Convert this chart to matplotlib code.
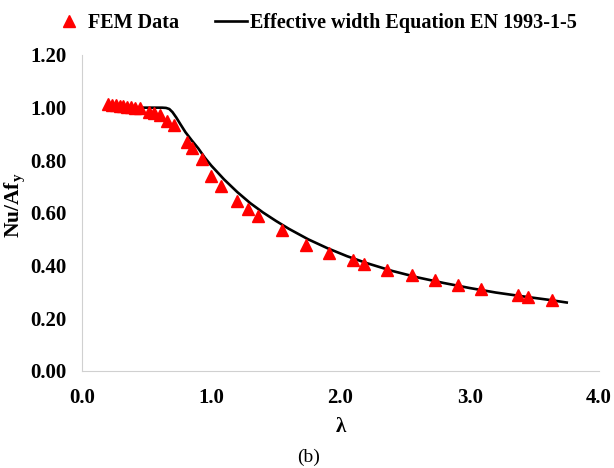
import matplotlib.pyplot as plt

# FEM results (lambda, Nu/Afy)
fem_lambda = [0.20, 0.23, 0.26, 0.29, 0.32, 0.35, 0.38, 0.41, 0.45,
              0.52, 0.56, 0.60, 0.66, 0.71, 0.81, 0.85, 0.93, 1.00,
              1.075, 1.20, 1.285, 1.36, 1.55, 1.73, 1.91, 2.10, 2.18,
              2.36, 2.55, 2.73, 2.91, 3.09, 3.37, 3.45, 3.64]
fem_ratio = [1.012, 1.011, 1.010, 1.008, 1.006, 1.004, 1.002, 1.000, 0.998,
             0.985, 0.978, 0.972, 0.950, 0.935, 0.870, 0.845, 0.806, 0.742,
             0.704, 0.647, 0.617, 0.590, 0.534, 0.477, 0.447, 0.420, 0.405,
             0.382, 0.363, 0.344, 0.326, 0.310, 0.287, 0.280, 0.270]

# Effective width curve EN 1993-1-5
en_lambda = [0.20, 0.40, 0.62, 0.65, 0.675, 0.70, 0.73, 0.76, 0.80, 0.85, 0.90, 0.95,
             1.00, 1.10, 1.20, 1.30, 1.40, 1.50, 1.60, 1.75, 1.90, 2.05,
             2.20, 2.40, 2.60, 2.80, 3.00, 3.20, 3.40, 3.60, 3.75]
en_ratio = [1.000, 1.000, 1.000, 0.999, 0.995, 0.983, 0.962, 0.938, 0.907, 0.875, 0.845, 0.810,
            0.780, 0.727, 0.680, 0.638, 0.602, 0.570, 0.540, 0.500, 0.466, 0.436,
            0.410, 0.380, 0.355, 0.334, 0.315, 0.298, 0.284, 0.271, 0.260]

x_ticks = [0.0, 1.0, 2.0, 3.0, 4.0]
y_ticks = [0.0, 0.2, 0.4, 0.6, 0.8, 1.0, 1.2]

plt.rcParams['font.family'] = ['Liberation Serif', 'DejaVu Serif']
plt.rcParams['mathtext.fontset'] = 'custom'
plt.rcParams['mathtext.bf'] = 'Liberation Serif:bold'

fig = plt.figure(figsize=(6.14, 4.68), dpi=100)
ax = fig.add_axes([0.1336, 0.2073, 0.842, 0.6752])

ax.plot(fem_lambda, fem_ratio, linestyle='none', marker='^', markersize=9,
        color='#ff0000', label='FEM Data', zorder=3)
ax.plot(en_lambda, en_ratio, color='black', linewidth=1.9,
        label='Effective width Equation EN 1993-1-5', zorder=2)

ax.set_xlim(0, 4)
ax.set_ylim(0, 1.2)
ax.set_xticks(x_ticks)
ax.set_yticks(y_ticks)
ax.set_xticklabels(['%.1f' % v for v in x_ticks], fontsize=15, fontweight='bold')
ax.set_yticklabels(['%.2f' % v for v in y_ticks], fontsize=15, fontweight='bold')
ax.tick_params(axis='x', length=0, pad=12)
ax.tick_params(axis='y', length=0, pad=11)

for side in ['top', 'right']:
    ax.spines[side].set_visible(False)
for side in ['left', 'bottom']:
    ax.spines[side].set_color('#d0d0d0')

ax.set_xlabel('λ', fontsize=15, fontweight='bold')
ax.xaxis.set_label_coords(0.5, -0.145)
ax.set_ylabel('Nu/Af$_\\mathbf{y}$', fontsize=15.5, fontweight='bold')
ax.yaxis.set_label_coords(-0.104, 0.525)

fig.legend(loc='center', bbox_to_anchor=(0.513, 0.951), ncol=2, frameon=False,
           prop={'size': 14.5, 'weight': 'bold'}, handlelength=1.6,
           columnspacing=1.75, handletextpad=0.15)

fig.text(0.502, 0.022, '(b)', fontsize=14, ha='center', va='center')

fig.savefig('out.png', dpi=100)
